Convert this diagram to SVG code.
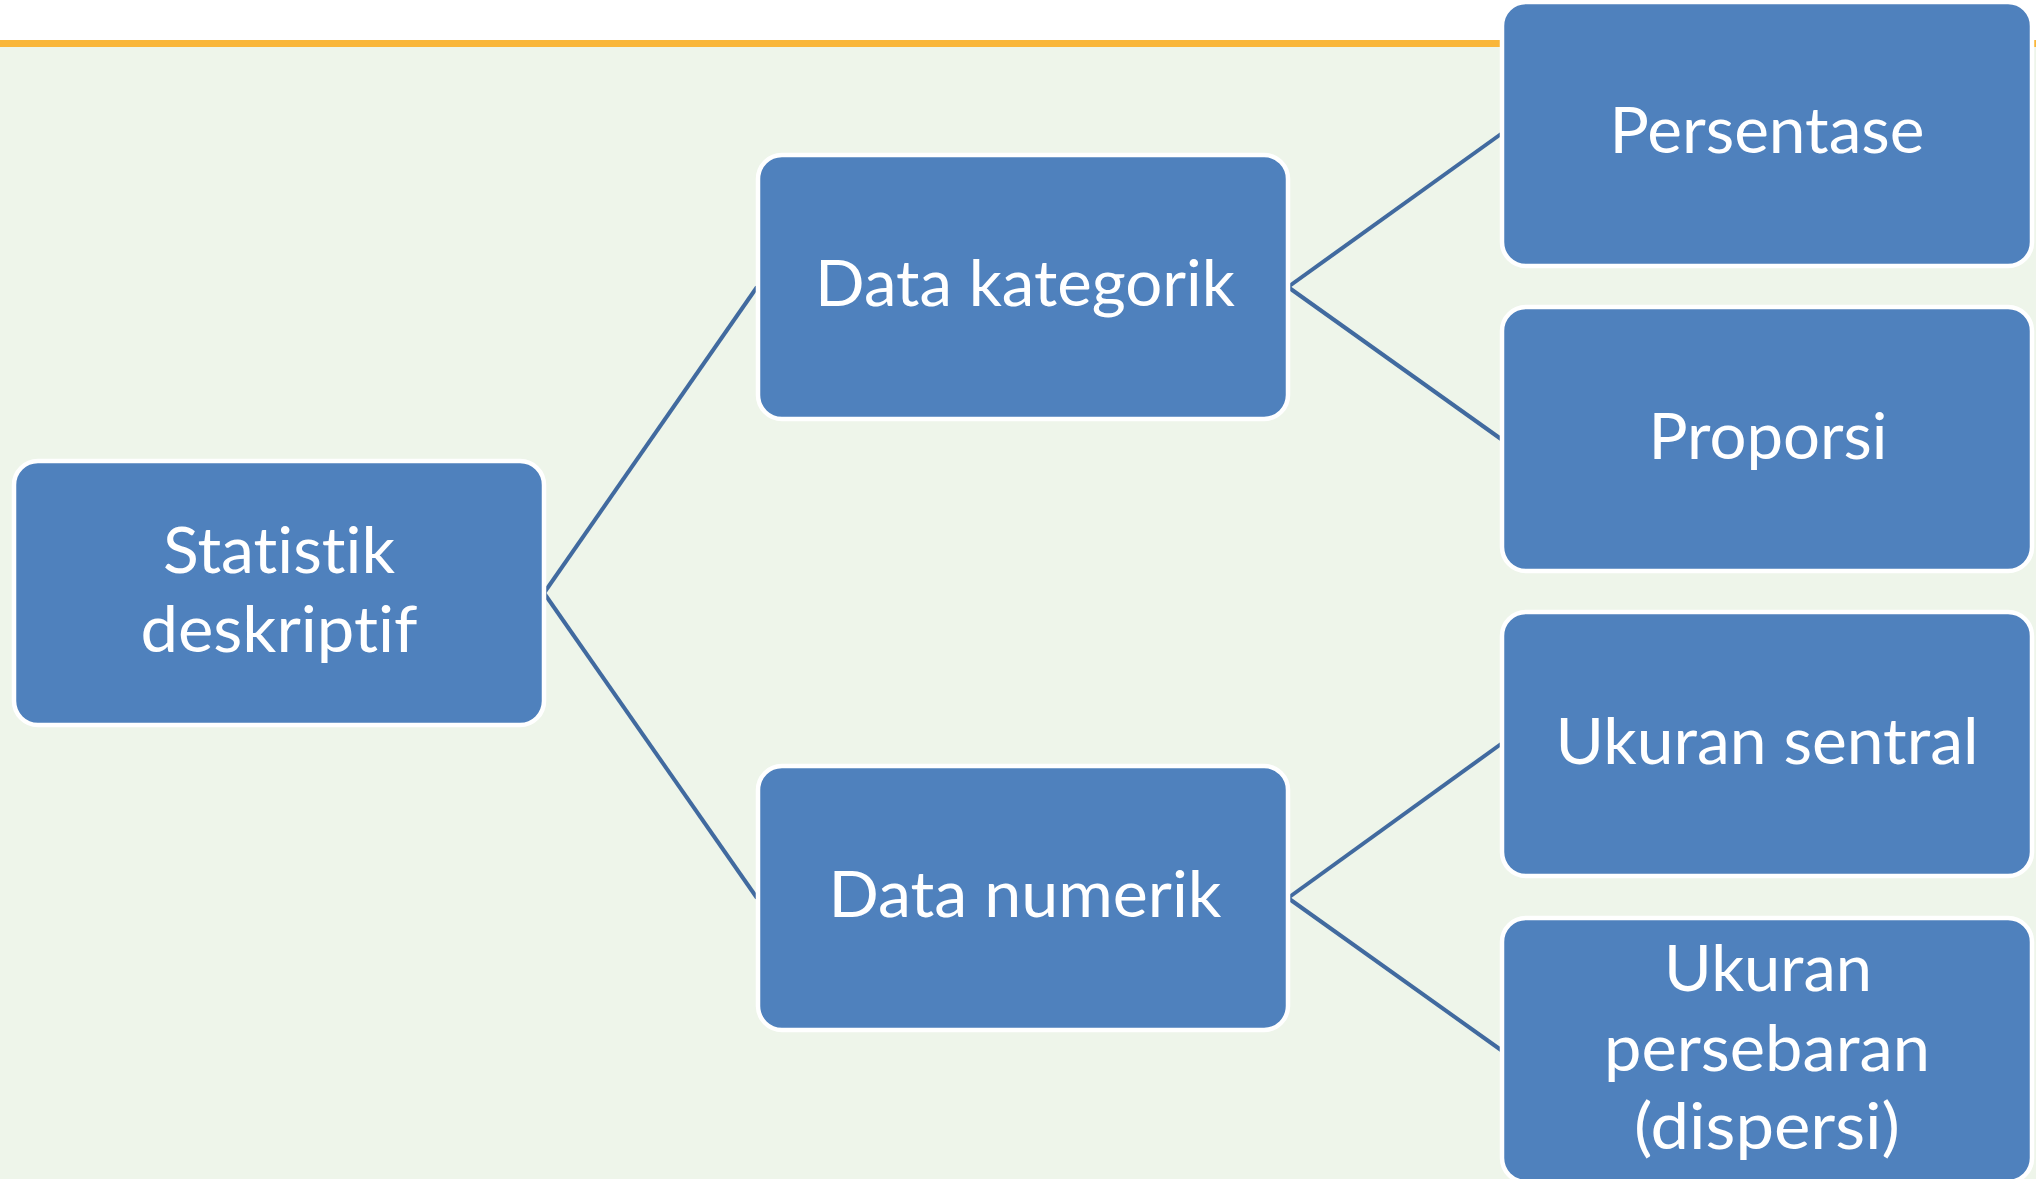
<svg xmlns="http://www.w3.org/2000/svg" width="2036" height="1179" viewBox="0 0 2036 1179">
<defs>
<style>
.box{fill:#4F81BD;stroke:#FFFFFF;stroke-width:4.5}
.lbl{font-family:Lato,"Open Sans","Liberation Sans",sans-serif;font-size:64px;fill:#FFFFFF;text-anchor:middle;font-variant-ligatures:none;font-feature-settings:"liga" 0}
.conn{stroke:#416A9F;stroke-width:4;fill:none}
</style>
</defs>
<rect x="0" y="0" width="2036" height="1179" fill="#FFFFFF"/>
<rect x="0" y="47" width="2036" height="1132" fill="#EEF5EA"/>
<rect x="0" y="40" width="2036" height="7" fill="#F9B63A"/>
<g id="connectors">
<line class="conn" x1="544" y1="593" x2="757" y2="287"/>
<line class="conn" x1="544" y1="593" x2="757" y2="898"/>
<line class="conn" x1="1288" y1="287" x2="1501" y2="134"/>
<line class="conn" x1="1288" y1="287" x2="1501" y2="439"/>
<line class="conn" x1="1288" y1="898" x2="1501" y2="744"/>
<line class="conn" x1="1288" y1="898" x2="1501" y2="1050"/>
</g>
<g id="node-statistik">
<rect class="box" x="14" y="461" width="530" height="264" rx="24"/>
<text class="lbl" x="279" y="573" textLength="232" lengthAdjust="spacingAndGlyphs">Statistik</text>
<text class="lbl" x="279" y="652" textLength="277" lengthAdjust="spacingAndGlyphs">deskriptif</text>
</g>
<g id="node-kategorik">
<rect class="box" x="758" y="155" width="530" height="264" rx="24"/>
<text class="lbl" x="1025" y="306" textLength="420" lengthAdjust="spacingAndGlyphs">Data kategorik</text>
</g>
<g id="node-numerik">
<rect class="box" x="758" y="766" width="530" height="264" rx="24"/>
<text class="lbl" x="1025" y="917" textLength="393" lengthAdjust="spacingAndGlyphs">Data numerik</text>
</g>
<g id="node-persentase">
<rect class="box" x="1502" y="2" width="530" height="264" rx="24"/>
<text class="lbl" x="1767" y="153" textLength="315" lengthAdjust="spacingAndGlyphs">Persentase</text>
</g>
<g id="node-proporsi">
<rect class="box" x="1502" y="307" width="530" height="264" rx="24"/>
<text class="lbl" x="1768" y="459" textLength="239" lengthAdjust="spacingAndGlyphs">Proporsi</text>
</g>
<g id="node-sentral">
<rect class="box" x="1502" y="612" width="530" height="264" rx="24"/>
<text class="lbl" x="1767" y="764" textLength="423" lengthAdjust="spacingAndGlyphs">Ukuran sentral</text>
</g>
<g id="node-persebaran">
<rect class="box" x="1502" y="918" width="530" height="264" rx="24"/>
<text class="lbl" x="1768" y="991" textLength="208" lengthAdjust="spacingAndGlyphs">Ukuran</text>
<text class="lbl" x="1767" y="1071" textLength="326" lengthAdjust="spacingAndGlyphs">persebaran</text>
<text class="lbl" x="1767" y="1149" textLength="266" lengthAdjust="spacingAndGlyphs">(dispersi)</text>
</g>
</svg>
